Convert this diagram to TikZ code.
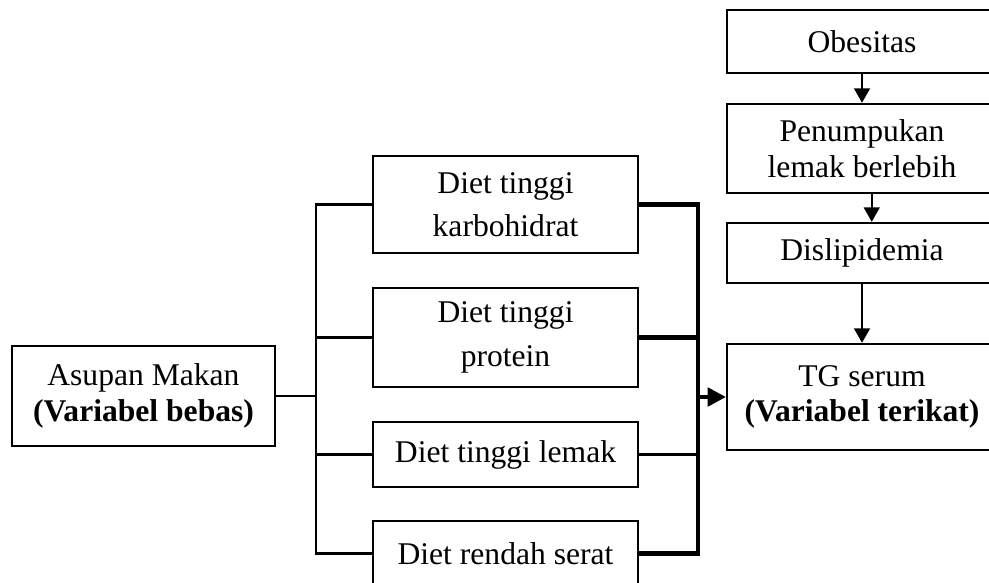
\documentclass[tikz,border=0pt]{standalone}
\usepackage{fontspec}
\setmainfont{Liberation Serif}
\usetikzlibrary{arrows.meta,positioning,calc}
\tikzset{
  kbox/.style={draw=black,line width=0.9pt,align=center,inner sep=2pt,minimum width=3.537cm},
  rbox/.style={draw=black,line width=0.9pt,align=center,inner sep=2pt,minimum width=3.6cm},
  kline/.style={line width=1pt,draw=black},
  kbold/.style={line width=1.6pt,draw=black,line join=miter},
  karr/.style={-{Triangle[length=5.5pt,width=6pt]},line width=0.8pt,draw=black},
  kbarr/.style={-{Triangle[length=7pt,width=7pt]},line width=1.6pt,draw=black}
}

\begin{document}
\begin{tikzpicture}[font=\fontsize{12}{13.5}\selectfont]
  \useasboundingbox (0,0) rectangle (13.2,-7.781);
  \clip (0,0) rectangle (13.2,-7.781);
  % independent variable
  \node[kbox,minimum width=3.51cm,minimum height=1.335cm] (asup) at (1.915,-5.285) {Asupan Makan\\\textbf{(Variabel bebas)}};
  % diet types
  \node[kbox,minimum height=1.295cm] (dk) at (6.747,-2.729) {Diet tinggi\\[3pt] karbohidrat};
  \node[kbox,minimum height=1.321cm] (dp) at (6.747,-4.505) {Diet tinggi\\[3pt] protein};
  \node[kbox,minimum height=0.868cm] (dl) at (6.747,-6.066) {Diet tinggi lemak};
  \node[kbox,minimum height=0.868cm] (ds) at (6.747,-7.388) {Diet rendah serat};
  % right column
  \node[rbox,minimum height=0.841cm] (ob) at (11.505,-0.554) {Obesitas};
  \node[rbox,minimum height=1.188cm] (pl) at (11.505,-1.982) {Penumpukan\\lemak berlebih};
  \node[rbox,minimum height=0.801cm] (dis) at (11.505,-3.377) {Dislipidemia};
  \node[rbox,minimum height=1.415cm] (tg) at (11.505,-5.299) {TG serum\\\textbf{(Variabel terikat)}};
  % buses
  \coordinate (lb) at (4.218,0);
  \coordinate (rb) at (9.316,0);
  \draw[kline] (dk.west) -- (dk.west -| lb) -- (ds.west -| lb) -- (ds.west);
  \draw[kline] (dp.west) -- (dp.west -| lb);
  \draw[kline] (dl.west) -- (dl.west -| lb);
  \draw[kline] (asup.east) -- (asup.east -| lb);
  \draw[kbold] (dk.east) -- (dk.east -| rb) -- (ds.east -| rb) -- (ds.east);
  \draw[kbold] (dp.east) -- (dp.east -| rb);
  \draw[kline] (dl.east) -- (dl.east -| rb);
  \draw[kbarr] (tg.west -| rb) -- (tg.west);
  % chain
  \draw[karr] (ob) -- (pl);
  \draw[karr] ($(pl.south)+(0.13,0)$) -- ($(dis.north)+(0.13,0)$);
  \draw[karr] (dis) -- (tg);
\end{tikzpicture}
\end{document}
